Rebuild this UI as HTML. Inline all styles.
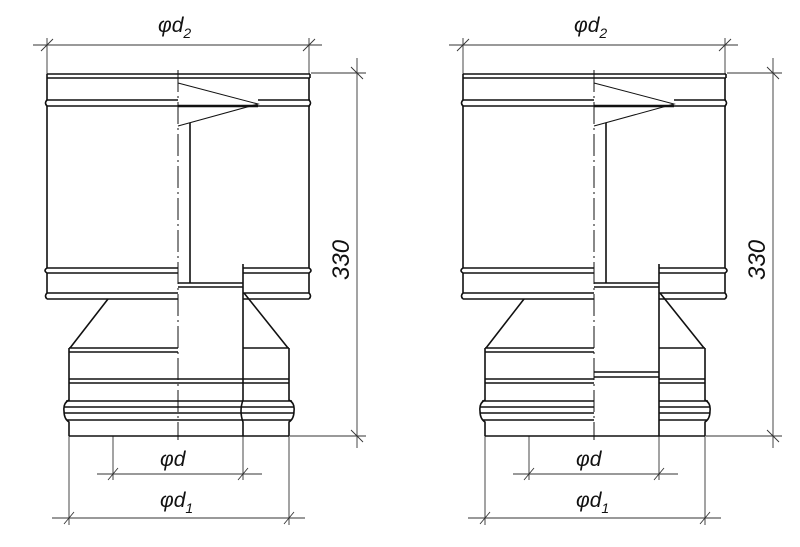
<!DOCTYPE html>
<html><head><meta charset="utf-8"><style>
html,body{margin:0;padding:0;background:#fff;}
svg{display:block}
text{font-family:"Liberation Sans",sans-serif;font-style:italic;fill:#111;}
</style></head><body>
<svg width="800" height="547" viewBox="0 0 800 547" xmlns="http://www.w3.org/2000/svg">
<defs>
<g id="body" fill="none" stroke="#111">
  <g stroke-width="0.9" stroke="#333">
    <line x1="33" y1="45" x2="322" y2="45"/>
    <line x1="47" y1="38" x2="47" y2="74"/>
    <line x1="309" y1="38" x2="309" y2="74"/>
    <line x1="41" y1="51" x2="53" y2="39"/>
    <line x1="303" y1="51" x2="315" y2="39"/>
    <line x1="357" y1="58" x2="357" y2="448"/>
    <line x1="311" y1="73" x2="366" y2="73"/>
    <line x1="290" y1="436" x2="366" y2="436"/>
    <line x1="351" y1="67" x2="363" y2="79"/>
    <line x1="351" y1="430" x2="363" y2="442"/>
    <line x1="97" y1="474" x2="262" y2="474"/>
    <line x1="113" y1="436" x2="113" y2="480"/>
    <line x1="243" y1="436" x2="243" y2="480"/>
    <line x1="108" y1="480" x2="118" y2="468"/>
    <line x1="238" y1="480" x2="248" y2="468"/>
    <line x1="52" y1="518" x2="305" y2="518"/>
    <line x1="69" y1="436" x2="69" y2="525"/>
    <line x1="289" y1="436" x2="289" y2="525"/>
    <line x1="64" y1="524" x2="74" y2="512"/>
    <line x1="284" y1="524" x2="294" y2="512"/>
  </g>
  <line x1="178" y1="70" x2="178" y2="440" stroke-width="1" stroke-dasharray="22,4,2,4"/>
  <g stroke-width="1.6">
    <path d="M47,74 H310 M47,78 H310 M47,74 V78 M310,74 V78"/>
    <path d="M47,78 V100 M309,78 V100 M47,100 H178 M47,106 H178 M258,100 H310 M258,106 H310"/>
    <path d="M47,100 Q44,103 47,106 M309,100 Q312,103 309,106"/>
    <path d="M47,106 V268 M309,106 V268"/>
    <path d="M178,106 H258" stroke-width="2.4"/>
    <path d="M47,268 H178 M243,268 H309 M47,273 H178 M243,273 H309 M47,268 Q43,270.5 47,273 M309,268 Q313,270.5 309,273"/>
    <path d="M47,273 V293 M309,273 V293 M47,293 H178 M47,299 H178 M243,293 H309 M243,299 H309 M47,293 Q44,296 47,299 M309,293 Q312,296 309,299"/>
    <path d="M190,123 V283 M178,283 H243 M178,287 H243"/>
    <path d="M108,299 L70,348 M244,293 L288,348"/>
    <path d="M69,348 V400 Q63,403 64,411 Q64,419 69,422 V436"/>
    <path d="M289,348 V400 Q295,403 294,411 Q294,419 289,422 V436"/>
    <path d="M69,348 H178 M69,352 H178 M243,348 H289"/>
  </g>
  <g stroke-width="1">
    <path d="M178,83 L258,104 L178,126"/>
  </g>
</g>
</defs>

<use href="#body"/>
<use href="#body" transform="translate(416,0)"/>

<g fill="none" stroke="#111" stroke-width="1.6">
  <path d="M243,264 V400 Q239,411 243,422 V436"/>
  <path d="M69,379 H289 M69,383 H289 M66,401 H292 M64,407 H294 M64,413 H294 M67,420 H291 M69,436 H289"/>
</g>
<g fill="none" stroke="#111" stroke-width="1.6">
  <path d="M659,264 V436"/>
  <path d="M485,379 H594 M485,383 H594 M482,401 H594 M480,407 H594 M480,413 H594 M483,420 H594 M485,436 H705"/>
  <path d="M659,379 H705 M659,383 H705 M659,401 H708 M659,407 H710 M659,413 H710 M659,420 H707"/>
  <path d="M594,372 H659 M594,377 H659"/>
</g>

<g font-size="21">
  <text x="158" y="32">φd<tspan font-size="14" dy="6">2</tspan></text>
  <text x="574" y="32">φd<tspan font-size="14" dy="6">2</tspan></text>
  <text x="160" y="466">φd</text>
  <text x="576" y="466">φd</text>
  <text x="160" y="507">φd<tspan font-size="14" dy="6">1</tspan></text>
  <text x="576" y="507">φd<tspan font-size="14" dy="6">1</tspan></text>
  <text transform="translate(349,280) rotate(-90)" font-size="24">330</text>
  <text transform="translate(765,280) rotate(-90)" font-size="24">330</text>
</g>
</svg>
</body></html>
